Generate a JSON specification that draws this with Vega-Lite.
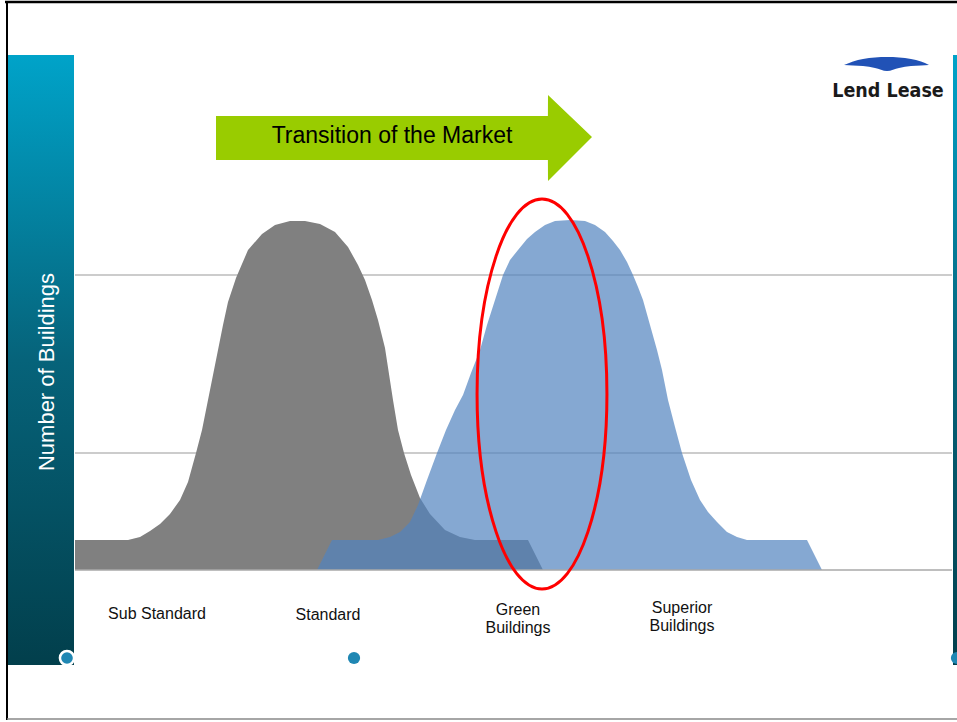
{
  "$schema": "https://vega.github.io/schema/vega-lite/v6.json",
  "width": 957,
  "height": 722,
  "autosize": {"type": "none"},
  "padding": 0,
  "background": "white",
  "config": {"view": {"stroke": null}},
  "datasets": {
    "bars": [{"x": 8, "x2": 74, "y": 515, "y2": -95}, {"x": 953, "x2": 957, "y": 515, "y2": -95}],
    "grid": [{"x": 75, "x2": 952, "y": 295}, {"x": 75, "x2": 952, "y": 117}],
    "base": [{"x": 75, "x2": 952, "y": 0}],
    "standard": [
      {"x": 75, "y": 30}, {"x": 128, "y": 30}, {"x": 140, "y": 33}, {"x": 150, "y": 39}, {"x": 160, "y": 46},
      {"x": 170, "y": 56}, {"x": 180, "y": 70}, {"x": 188, "y": 88}, {"x": 196, "y": 117}, {"x": 202, "y": 140},
      {"x": 208, "y": 170}, {"x": 213, "y": 195}, {"x": 218, "y": 220}, {"x": 223, "y": 245}, {"x": 228, "y": 268},
      {"x": 236, "y": 292}, {"x": 248, "y": 320}, {"x": 262, "y": 336}, {"x": 275, "y": 345}, {"x": 290, "y": 349},
      {"x": 305, "y": 349}, {"x": 320, "y": 346}, {"x": 335, "y": 338}, {"x": 348, "y": 323}, {"x": 358, "y": 305},
      {"x": 365, "y": 290}, {"x": 372, "y": 270}, {"x": 378, "y": 250}, {"x": 385, "y": 222}, {"x": 393, "y": 170},
      {"x": 398, "y": 140}, {"x": 404, "y": 117}, {"x": 411, "y": 95}, {"x": 420, "y": 72}, {"x": 430, "y": 56},
      {"x": 445, "y": 40}, {"x": 460, "y": 33}, {"x": 475, "y": 30}, {"x": 528, "y": 30}, {"x": 543, "y": 0}
    ],
    "green": [
      {"x": 317, "y": 0}, {"x": 332, "y": 30}, {"x": 378, "y": 30}, {"x": 390, "y": 33}, {"x": 400, "y": 38},
      {"x": 410, "y": 48}, {"x": 418, "y": 65}, {"x": 427, "y": 90}, {"x": 437, "y": 117}, {"x": 446, "y": 140},
      {"x": 455, "y": 160}, {"x": 463, "y": 175}, {"x": 471, "y": 197}, {"x": 480, "y": 220}, {"x": 487, "y": 245},
      {"x": 495, "y": 270}, {"x": 503, "y": 295}, {"x": 510, "y": 310}, {"x": 518, "y": 320}, {"x": 527, "y": 331},
      {"x": 535, "y": 338}, {"x": 545, "y": 345}, {"x": 555, "y": 349}, {"x": 570, "y": 350}, {"x": 585, "y": 349},
      {"x": 595, "y": 345}, {"x": 605, "y": 338}, {"x": 613, "y": 329}, {"x": 620, "y": 320}, {"x": 627, "y": 308},
      {"x": 633, "y": 295}, {"x": 638, "y": 283}, {"x": 643, "y": 270}, {"x": 650, "y": 245}, {"x": 657, "y": 220},
      {"x": 662, "y": 200}, {"x": 668, "y": 170}, {"x": 675, "y": 143}, {"x": 682, "y": 117}, {"x": 691, "y": 90},
      {"x": 700, "y": 70}, {"x": 708, "y": 58}, {"x": 717, "y": 48}, {"x": 727, "y": 38}, {"x": 737, "y": 33},
      {"x": 747, "y": 30}, {"x": 807, "y": 30}, {"x": 822, "y": 0}
    ],
    "ellipse": [{"x": 542, "y": 176}],
    "arrow": [
      {"x": 216, "y": 454, "y2": 410}, {"x": 547.9, "y": 454, "y2": 410},
      {"x": 548, "y": 475, "y2": 389}, {"x": 592, "y": 433, "y2": 433}
    ],
    "arrowText": [{"x": 392, "y": 427, "t": "Transition of the Market"}],
    "yLabel": [{"x": 47, "y": 198, "t": "Number of Buildings"}],
    "swoosh": [
      {"x": 844, "y": 505, "y2": 505}, {"x": 853, "y": 508.5, "y2": 504.5}, {"x": 863, "y": 511, "y2": 504},
      {"x": 875, "y": 512.5, "y2": 502}, {"x": 887, "y": 513, "y2": 499}, {"x": 899, "y": 512.5, "y2": 502},
      {"x": 911, "y": 511, "y2": 504}, {"x": 921, "y": 508.5, "y2": 504.5}, {"x": 929, "y": 505, "y2": 505}
    ],
    "logo": [{"x": 888, "y": 473, "t": "Lend Lease"}],
    "labels": [
      {"x": 157, "y": -49, "t": "Sub Standard"}, {"x": 328, "y": -50, "t": "Standard"},
      {"x": 518, "y": -45, "t": "Green"}, {"x": 518, "y": -63, "t": "Buildings"},
      {"x": 682, "y": -43, "t": "Superior"}, {"x": 682, "y": -61, "t": "Buildings"}
    ],
    "dot1": [{"x": 67, "y": -88}],
    "dots": [{"x": 354, "y": -88}, {"x": 957, "y": -88}],
    "frameTop": [{"x": 5, "x2": 957, "y": 568}],
    "frameLeft": [{"x": 7, "y": 569, "y2": -150}],
    "frameBottom": [{"x": 7, "x2": 957, "y": -149}]
  },
  "layer": [
    {
      "data": {"name": "bars"},
      "mark": {"type": "rect", "color": {"gradient": "linear", "x1": 0, "y1": 0, "x2": 0, "y2": 1,
        "stops": [{"offset": 0, "color": "#00a3c9"}, {"offset": 0.5, "color": "#06637a"}, {"offset": 1, "color": "#023f4c"}]}},
      "encoding": {
        "x": {"field": "x", "type": "quantitative", "scale": {"domain": [0, 957], "nice": false, "zero": false}, "axis": null},
        "x2": {"field": "x2"},
        "y": {"field": "y", "type": "quantitative", "scale": {"domain": [-152, 570], "nice": false, "zero": false}, "axis": null},
        "y2": {"field": "y2"}
      }
    },
    {
      "data": {"name": "grid"},
      "mark": {"type": "rule", "color": "#9a9a9a", "strokeWidth": 1.2},
      "encoding": {
        "x": {"field": "x", "type": "quantitative", "scale": {"domain": [0, 957], "nice": false, "zero": false}, "axis": null},
        "x2": {"field": "x2"},
        "y": {"field": "y", "type": "quantitative", "scale": {"domain": [-152, 570], "nice": false, "zero": false}, "axis": null}
      }
    },
    {
      "data": {"name": "standard"},
      "mark": {"type": "area", "color": "#808080", "opacity": 1},
      "encoding": {
        "x": {"field": "x", "type": "quantitative", "scale": {"domain": [0, 957], "nice": false, "zero": false}, "axis": null},
        "y": {"field": "y", "type": "quantitative", "scale": {"domain": [-152, 570], "nice": false, "zero": false}, "axis": null},
        "y2": {"datum": 0}
      }
    },
    {
      "data": {"name": "green"},
      "mark": {"type": "area", "color": "#5183bf", "opacity": 0.7},
      "encoding": {
        "x": {"field": "x", "type": "quantitative", "scale": {"domain": [0, 957], "nice": false, "zero": false}, "axis": null},
        "y": {"field": "y", "type": "quantitative", "scale": {"domain": [-152, 570], "nice": false, "zero": false}, "axis": null},
        "y2": {"datum": 0}
      }
    },
    {
      "data": {"name": "base"},
      "mark": {"type": "rule", "color": "#a8a8a8", "strokeWidth": 1.5},
      "encoding": {
        "x": {"field": "x", "type": "quantitative", "scale": {"domain": [0, 957], "nice": false, "zero": false}, "axis": null},
        "x2": {"field": "x2"},
        "y": {"field": "y", "type": "quantitative", "scale": {"domain": [-152, 570], "nice": false, "zero": false}, "axis": null}
      }
    },
    {
      "data": {"name": "ellipse"},
      "mark": {"type": "point", "filled": false, "opacity": 1, "stroke": "#ff0000", "strokeWidth": 3,
        "shape": "M 0 -1 A 0.333 1 0 0 1 0 1 A 0.333 1 0 0 1 0 -1 Z", "size": 152100},
      "encoding": {
        "x": {"field": "x", "type": "quantitative", "scale": {"domain": [0, 957], "nice": false, "zero": false}, "axis": null},
        "y": {"field": "y", "type": "quantitative", "scale": {"domain": [-152, 570], "nice": false, "zero": false}, "axis": null}
      }
    },
    {
      "data": {"name": "arrow"},
      "mark": {"type": "area", "color": "#99cc00", "opacity": 1},
      "encoding": {
        "x": {"field": "x", "type": "quantitative", "scale": {"domain": [0, 957], "nice": false, "zero": false}, "axis": null},
        "y": {"field": "y", "type": "quantitative", "scale": {"domain": [-152, 570], "nice": false, "zero": false}, "axis": null},
        "y2": {"field": "y2"}
      }
    },
    {
      "data": {"name": "arrowText"},
      "mark": {"type": "text", "font": "Liberation Sans", "fontSize": 23, "color": "#000000", "align": "center", "baseline": "alphabetic"},
      "encoding": {
        "x": {"field": "x", "type": "quantitative", "scale": {"domain": [0, 957], "nice": false, "zero": false}, "axis": null},
        "y": {"field": "y", "type": "quantitative", "scale": {"domain": [-152, 570], "nice": false, "zero": false}, "axis": null},
        "text": {"field": "t"}
      }
    },
    {
      "data": {"name": "yLabel"},
      "mark": {"type": "text", "font": "Liberation Sans", "fontSize": 22, "color": "#ffffff", "align": "center", "baseline": "middle", "angle": 270},
      "encoding": {
        "x": {"field": "x", "type": "quantitative", "scale": {"domain": [0, 957], "nice": false, "zero": false}, "axis": null},
        "y": {"field": "y", "type": "quantitative", "scale": {"domain": [-152, 570], "nice": false, "zero": false}, "axis": null},
        "text": {"field": "t"}
      }
    },
    {
      "data": {"name": "swoosh"},
      "mark": {"type": "area", "color": "#2152b6", "opacity": 1, "interpolate": "monotone"},
      "encoding": {
        "x": {"field": "x", "type": "quantitative", "scale": {"domain": [0, 957], "nice": false, "zero": false}, "axis": null},
        "y": {"field": "y", "type": "quantitative", "scale": {"domain": [-152, 570], "nice": false, "zero": false}, "axis": null},
        "y2": {"field": "y2"}
      }
    },
    {
      "data": {"name": "logo"},
      "mark": {"type": "text", "font": "Liberation Sans Narrow, DejaVu Sans Condensed, sans-serif", "fontWeight": "bold", "fontSize": 19.5, "color": "#1a1a1a", "align": "center", "baseline": "alphabetic"},
      "encoding": {
        "x": {"field": "x", "type": "quantitative", "scale": {"domain": [0, 957], "nice": false, "zero": false}, "axis": null},
        "y": {"field": "y", "type": "quantitative", "scale": {"domain": [-152, 570], "nice": false, "zero": false}, "axis": null},
        "text": {"field": "t"}
      }
    },
    {
      "data": {"name": "labels"},
      "mark": {"type": "text", "font": "Liberation Sans", "fontSize": 16, "color": "#111111", "align": "center", "baseline": "alphabetic"},
      "encoding": {
        "x": {"field": "x", "type": "quantitative", "scale": {"domain": [0, 957], "nice": false, "zero": false}, "axis": null},
        "y": {"field": "y", "type": "quantitative", "scale": {"domain": [-152, 570], "nice": false, "zero": false}, "axis": null},
        "text": {"field": "t"}
      }
    },
    {
      "data": {"name": "dot1"},
      "mark": {"type": "point", "shape": "circle", "filled": true, "opacity": 1, "fill": "#1f87b3", "stroke": "#ffffff", "strokeWidth": 2.5, "size": 200},
      "encoding": {
        "x": {"field": "x", "type": "quantitative", "scale": {"domain": [0, 957], "nice": false, "zero": false}, "axis": null},
        "y": {"field": "y", "type": "quantitative", "scale": {"domain": [-152, 570], "nice": false, "zero": false}, "axis": null}
      }
    },
    {
      "data": {"name": "dots"},
      "mark": {"type": "point", "shape": "circle", "filled": true, "opacity": 1, "fill": "#1f87b3", "size": 150},
      "encoding": {
        "x": {"field": "x", "type": "quantitative", "scale": {"domain": [0, 957], "nice": false, "zero": false}, "axis": null},
        "y": {"field": "y", "type": "quantitative", "scale": {"domain": [-152, 570], "nice": false, "zero": false}, "axis": null}
      }
    },
    {
      "data": {"name": "frameTop"},
      "mark": {"type": "rule", "color": "#000000", "strokeWidth": 2.5},
      "encoding": {
        "x": {"field": "x", "type": "quantitative", "scale": {"domain": [0, 957], "nice": false, "zero": false}, "axis": null},
        "x2": {"field": "x2"},
        "y": {"field": "y", "type": "quantitative", "scale": {"domain": [-152, 570], "nice": false, "zero": false}, "axis": null}
      }
    },
    {
      "data": {"name": "frameLeft"},
      "mark": {"type": "rule", "color": "#000000", "strokeWidth": 2},
      "encoding": {
        "x": {"field": "x", "type": "quantitative", "scale": {"domain": [0, 957], "nice": false, "zero": false}, "axis": null},
        "y": {"field": "y", "type": "quantitative", "scale": {"domain": [-152, 570], "nice": false, "zero": false}, "axis": null},
        "y2": {"field": "y2"}
      }
    },
    {
      "data": {"name": "frameBottom"},
      "mark": {"type": "rule", "color": "#888888", "strokeWidth": 1.5},
      "encoding": {
        "x": {"field": "x", "type": "quantitative", "scale": {"domain": [0, 957], "nice": false, "zero": false}, "axis": null},
        "x2": {"field": "x2"},
        "y": {"field": "y", "type": "quantitative", "scale": {"domain": [-152, 570], "nice": false, "zero": false}, "axis": null}
      }
    }
  ]
}
